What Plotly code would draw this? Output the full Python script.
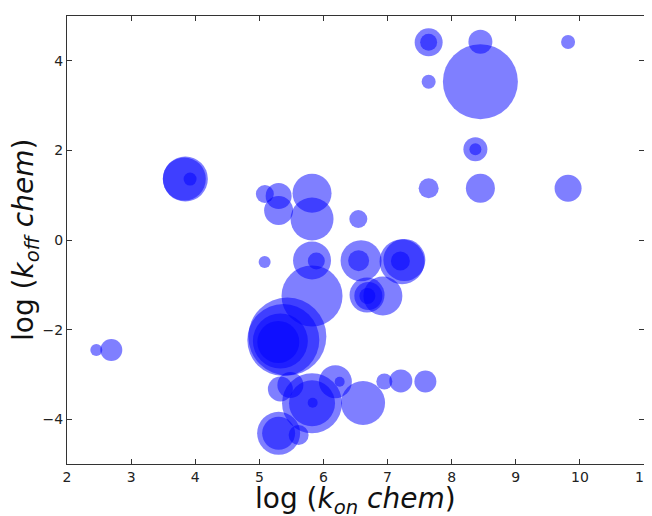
import plotly.graph_objects as go

# data: log(k_on chem), log(k_off chem), bubble diameter
log_kon = [3.846, 3.83, 3.92, 2.457, 2.691, 8.448, 8.448, 9.816, 8.37, 8.37,
           8.448, 9.816, 7.641, 7.641, 7.641, 7.641, 6.544, 5.086, 5.301, 5.301,
           5.822, 5.822, 5.083, 5.822, 5.889, 5.822, 6.587, 6.549, 7.226, 7.262,
           7.2, 6.68, 6.927, 6.7, 6.685, 5.437, 5.374, 5.328, 5.296, 5.328,
           5.484, 5.822, 5.822, 5.832, 6.186, 6.253, 6.618, 6.95, 7.207, 7.59,
           5.301, 5.301, 5.613]
log_koff = [1.362, 1.36, 1.36, -2.455, -2.455, 3.533, 4.426, 4.42, 2.025, 2.025,
            1.154, 1.154, 4.413, 4.413, 3.533, 1.154, 0.469, 1.027, 0.982, 0.658,
            1.042, 0.469, -0.491, -0.458, -0.469, -1.25, -0.462, -0.462, -0.484, -0.446,
            -0.469, -1.228, -1.25, -1.25, -1.25, -2.154, -2.232, -2.254, -2.277, -3.326,
            -3.237, -3.645, -3.645, -3.632, -3.163, -3.163, -3.638, -3.158, -3.147, -3.158,
            -4.315, -4.315, -4.353]
bubble_size = [45, 43, 13, 12, 22, 75, 24, 14, 24, 12,
               29, 27, 28, 17, 14, 20, 18, 18, 26, 29,
               39, 43, 12, 38, 17, 61, 41, 21, 45, 42,
               19, 35, 39, 28, 16, 78, 72, 55, 42, 25,
               26, 60, 46, 10, 33, 10, 44, 16, 23, 22,
               43, 33, 20]

x_ticks = [2, 3, 4, 5, 6, 7, 8, 9, 10, 11]
y_ticks = [-4, -2, 0, 2, 4]

fig = go.Figure()
fig.add_trace(go.Scatter(
    x=log_kon, y=log_koff, mode="markers",
    marker=dict(size=bubble_size, sizemode="diameter", opacity=1,
                color="rgba(0,0,255,0.5)", line=dict(width=0)),
    hoverinfo="skip", showlegend=False, cliponaxis=True,
))

axis_common = dict(showgrid=False, zeroline=False, showline=True, linecolor="#333333",
                   linewidth=1, mirror="ticks", ticks="inside", ticklen=5,
                   tickcolor="#333333", automargin=False,
                   tickfont=dict(family="DejaVu Sans", size=14, color="#222222"))
fig.update_xaxes(range=[2, 11], tickvals=x_ticks, ticktext=[str(v) for v in x_ticks], **axis_common)
fig.update_yaxes(range=[-5, 5], tickvals=y_ticks, **axis_common)

fig.add_annotation(text="log (<i>k<sub>on</sub> chem</i>)", xref="paper", yref="paper",
                   x=0.5, y=0, yshift=-36, yanchor="middle", showarrow=False,
                   font=dict(family="DejaVu Sans", size=28, color="#111111"))
fig.add_annotation(text="log (<i>k<sub>off</sub> chem</i>)", xref="paper", yref="paper",
                   x=0, y=0.5, xshift=-42, xanchor="center", yanchor="middle",
                   textangle=-90, showarrow=False,
                   font=dict(family="DejaVu Sans", size=28, color="#111111"))

# page body adds an 8px offset; margins compensate so the plot area lands at 67..644 x 16..464
fig.update_layout(width=652, height=516, margin=dict(l=59, r=16, t=8, b=60),
                  plot_bgcolor="white", paper_bgcolor="white")
fig.write_html("out.html")
